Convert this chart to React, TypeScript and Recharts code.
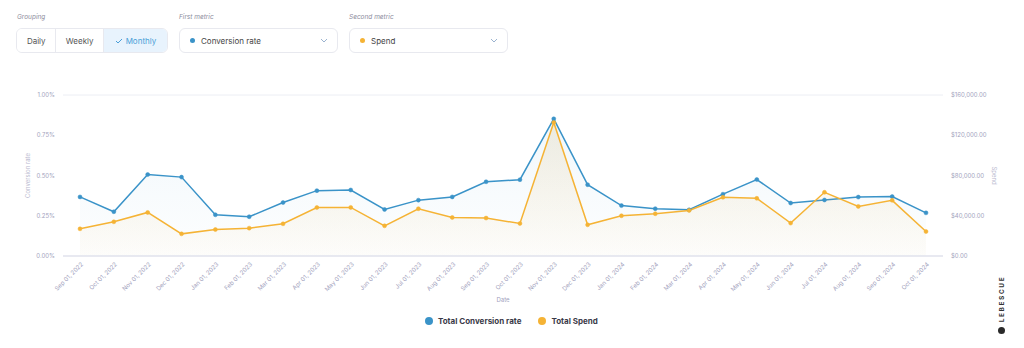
import React from 'react';
import { ComposedChart, Area, XAxis, YAxis, CartesianGrid } from 'recharts';

const dates = [
  'Sep 01, 2022', 'Oct 01, 2022', 'Nov 01, 2022', 'Dec 01, 2022',
  'Jan 01, 2023', 'Feb 01, 2023', 'Mar 01, 2023', 'Apr 01, 2023',
  'May 01, 2023', 'Jun 01, 2023', 'Jul 01, 2023', 'Aug 01, 2023',
  'Sep 01, 2023', 'Oct 01, 2023', 'Nov 01, 2023', 'Dec 01, 2023',
  'Jan 01, 2024', 'Feb 01, 2024', 'Mar 01, 2024', 'Apr 01, 2024',
  'May 01, 2024', 'Jun 01, 2024', 'Jul 01, 2024', 'Aug 01, 2024',
  'Sep 01, 2024', 'Oct 01, 2024',
];

// conversion rate in percent
const conversionRate = [
  0.367, 0.275, 0.506, 0.49, 0.256, 0.244, 0.332, 0.406, 0.41, 0.289,
  0.347, 0.367, 0.461, 0.474, 0.852, 0.443, 0.313, 0.294, 0.287, 0.384,
  0.475, 0.329, 0.348, 0.366, 0.369, 0.268,
];

// spend in dollars
const spend = [
  27000, 34000, 43300, 22000, 26300, 27700, 32000, 48200, 48300, 30000,
  47000, 38300, 37700, 32300, 132700, 31000, 40000, 42000, 45300, 58300,
  57300, 32700, 63300, 49300, 55300, 24300,
];

const rateTicks = [0, 0.25, 0.5, 0.75, 1];
const spendTicks = [0, 40000, 80000, 120000, 160000];

const groupings = ['Daily', 'Weekly', 'Monthly'];
const seriesNames = ['Total Conversion rate', 'Total Spend'];

const BLUE = '#3a93c8';
const ORANGE = '#f5b335';
const TICK = '#a2a2bd';
const FONT = 'Inter, "Open Sans", sans-serif';

const data = dates.map((date, i) => ({
  date,
  rate: conversionRate[i],
  spend: spend[i],
}));

const DateTick = (props: any) => {
  const { x, y, payload } = props;
  return (
    <g transform={`translate(${x},${y})`}>
      <text
        x={2}
        y={0}
        dy={3}
        textAnchor="end"
        transform="rotate(-45)"
        fontSize={6}
        fill={TICK}
        fontFamily={FONT}
      >
        {payload.value}
      </text>
    </g>
  );
};

const Chevron = () => (
  <svg width="8" height="5" viewBox="0 0 8 5">
    <polyline points="1,1 4,4 7,1" fill="none" stroke="#9bb3cf" strokeWidth="1" />
  </svg>
);

const labelStyle: React.CSSProperties = {
  position: 'absolute',
  fontSize: 6.5,
  fontStyle: 'italic',
  color: '#8e8e9e',
};

const boxStyle: React.CSSProperties = {
  position: 'absolute',
  top: 28,
  height: 25,
  border: '1px solid #e8e9ef',
  borderRadius: 6,
  boxSizing: 'border-box',
  background: '#fff',
  display: 'flex',
  alignItems: 'center',
  fontSize: 8,
  color: '#444',
};

const Dropdown = ({ left, label, color }: { left: number; label: string; color: string }) => (
  <div style={{ ...boxStyle, left, width: 159, padding: '0 9px 0 10px' }}>
    <span style={{ width: 5, height: 5, borderRadius: 3, background: color, marginRight: 6 }} />
    <span style={{ flex: 1 }}>{label}</span>
    <Chevron />
  </div>
);

export default function App() {
  return (
    <div
      style={{
        position: 'absolute',
        left: 0,
        top: 0,
        width: 1024,
        height: 348,
        background: '#fff',
        fontFamily: FONT,
        overflow: 'hidden',
      }}
    >
      <div style={{ ...labelStyle, left: 17, top: 13 }}>Grouping</div>
      <div style={{ ...labelStyle, left: 179, top: 13 }}>First metric</div>
      <div style={{ ...labelStyle, left: 349, top: 13 }}>Second metric</div>

      <div style={{ ...boxStyle, left: 16, width: 152, overflow: 'hidden' }}>
        {groupings.map((g, i) => {
          const active = i === groupings.length - 1;
          const widths = [39, 48, 65];
          return (
            <div
              key={g}
              style={{
                width: widths[i],
                height: '100%',
                display: 'flex',
                alignItems: 'center',
                justifyContent: 'center',
                borderLeft: i > 0 ? '1px solid #e8e9ef' : 'none',
                background: active ? '#e8f3fd' : '#fff',
                color: active ? '#4a9fd8' : '#555',
                boxSizing: 'border-box',
              }}
            >
              {active && (
                <svg width="8" height="6" viewBox="0 0 8 6" style={{ marginRight: 3 }}>
                  <polyline points="1,3 3,5 7,1" fill="none" stroke="#4a9fd8" strokeWidth="1" />
                </svg>
              )}
              {g}
            </div>
          );
        })}
      </div>

      <Dropdown left={179} label="Conversion rate" color={BLUE} />
      <Dropdown left={349} label="Spend" color={ORANGE} />

      <div style={{ position: 'absolute', left: 0, top: 0 }}>
        <ComposedChart
          width={1024}
          height={348}
          data={data}
          margin={{ top: 95, right: 25, bottom: 32, left: 23 }}
        >
          <defs>
            <linearGradient id="fillRate" x1="0" y1="0" x2="0" y2="1">
              <stop offset="0%" stopColor={BLUE} stopOpacity={0.07} />
              <stop offset="100%" stopColor={BLUE} stopOpacity={0.01} />
            </linearGradient>
            <linearGradient id="fillSpend" x1="0" y1="0" x2="0" y2="1">
              <stop offset="0%" stopColor="#c9a55a" stopOpacity={0.16} />
              <stop offset="100%" stopColor={ORANGE} stopOpacity={0.02} />
            </linearGradient>
          </defs>
          <CartesianGrid vertical={false} stroke="#eceef4" />
          <XAxis
            dataKey="date"
            interval={0}
            height={60}
            padding={{ left: 17, right: 17 }}
            tickLine={false}
            axisLine={{ stroke: '#e3e5ee', strokeWidth: 1.5 }}
            tick={<DateTick />}
            label={{
              value: 'Date',
              position: 'insideBottom',
              offset: 14,
              fontSize: 6,
              fill: TICK,
              fontFamily: FONT,
            }}
          />
          <YAxis
            yAxisId="left"
            orientation="left"
            width={40}
            domain={[0, 1]}
            ticks={rateTicks}
            tickLine={false}
            axisLine={false}
            tick={{ fontSize: 6, fill: TICK, fontFamily: FONT }}
            tickFormatter={(v: number) => `${v.toFixed(2)}%`}
            label={{
              value: 'Conversion rate',
              angle: -90,
              position: 'insideLeft',
              offset: 5,
              fontSize: 6,
              fill: '#b9b9cf',
              fontFamily: FONT,
              style: { textAnchor: 'middle' },
            }}
          />
          <YAxis
            yAxisId="right"
            orientation="right"
            width={56}
            domain={[0, 160000]}
            ticks={spendTicks}
            tickLine={false}
            axisLine={false}
            tick={{ fontSize: 6, fill: TICK, fontFamily: FONT }}
            tickFormatter={(v: number) =>
              `$${v.toLocaleString('en-US', { minimumFractionDigits: 2, maximumFractionDigits: 2 })}`
            }
            label={{
              value: 'Spend',
              angle: 90,
              position: 'insideRight',
              offset: 5,
              fontSize: 6,
              fill: '#b9b9cf',
              fontFamily: FONT,
              style: { textAnchor: 'middle' },
            }}
          />
          <Area
            yAxisId="left"
            type="linear"
            dataKey="rate"
            stroke={BLUE}
            strokeWidth={1.5}
            fill="url(#fillRate)"
            fillOpacity={1}
            dot={{ r: 2, fill: BLUE, fillOpacity: 1, stroke: BLUE, strokeWidth: 0.5 }}
            activeDot={false}
            isAnimationActive={false}
          />
          <Area
            yAxisId="right"
            type="linear"
            dataKey="spend"
            stroke={ORANGE}
            strokeWidth={1.5}
            fill="url(#fillSpend)"
            fillOpacity={1}
            dot={{ r: 2, fill: ORANGE, fillOpacity: 1, stroke: ORANGE, strokeWidth: 0.5 }}
            activeDot={false}
            isAnimationActive={false}
          />
        </ComposedChart>
      </div>

      <div
        style={{
          position: 'absolute',
          left: 425,
          top: 316,
          display: 'flex',
          alignItems: 'center',
          fontSize: 8,
          fontWeight: 700,
          color: '#3a3a48',
        }}
      >
        {seriesNames.map((name, i) => (
          <div key={name} style={{ display: 'flex', alignItems: 'center', marginRight: 17 }}>
            <span
              style={{
                width: 8,
                height: 8,
                borderRadius: 4,
                background: i === 0 ? BLUE : ORANGE,
                marginRight: 5,
              }}
            />
            {name}
          </div>
        ))}
      </div>

      <div
        style={{
          position: 'absolute',
          left: 972,
          top: 295,
          width: 60,
          textAlign: 'center',
          transform: 'rotate(-90deg)',
          fontSize: 6.5,
          fontWeight: 700,
          letterSpacing: 1.6,
          color: '#333',
        }}
      >
        LEBESCUE
      </div>
      <div
        style={{
          position: 'absolute',
          left: 998,
          top: 327,
          width: 7,
          height: 7,
          borderRadius: 4,
          background: '#2a2a2a',
        }}
      />
    </div>
  );
}
